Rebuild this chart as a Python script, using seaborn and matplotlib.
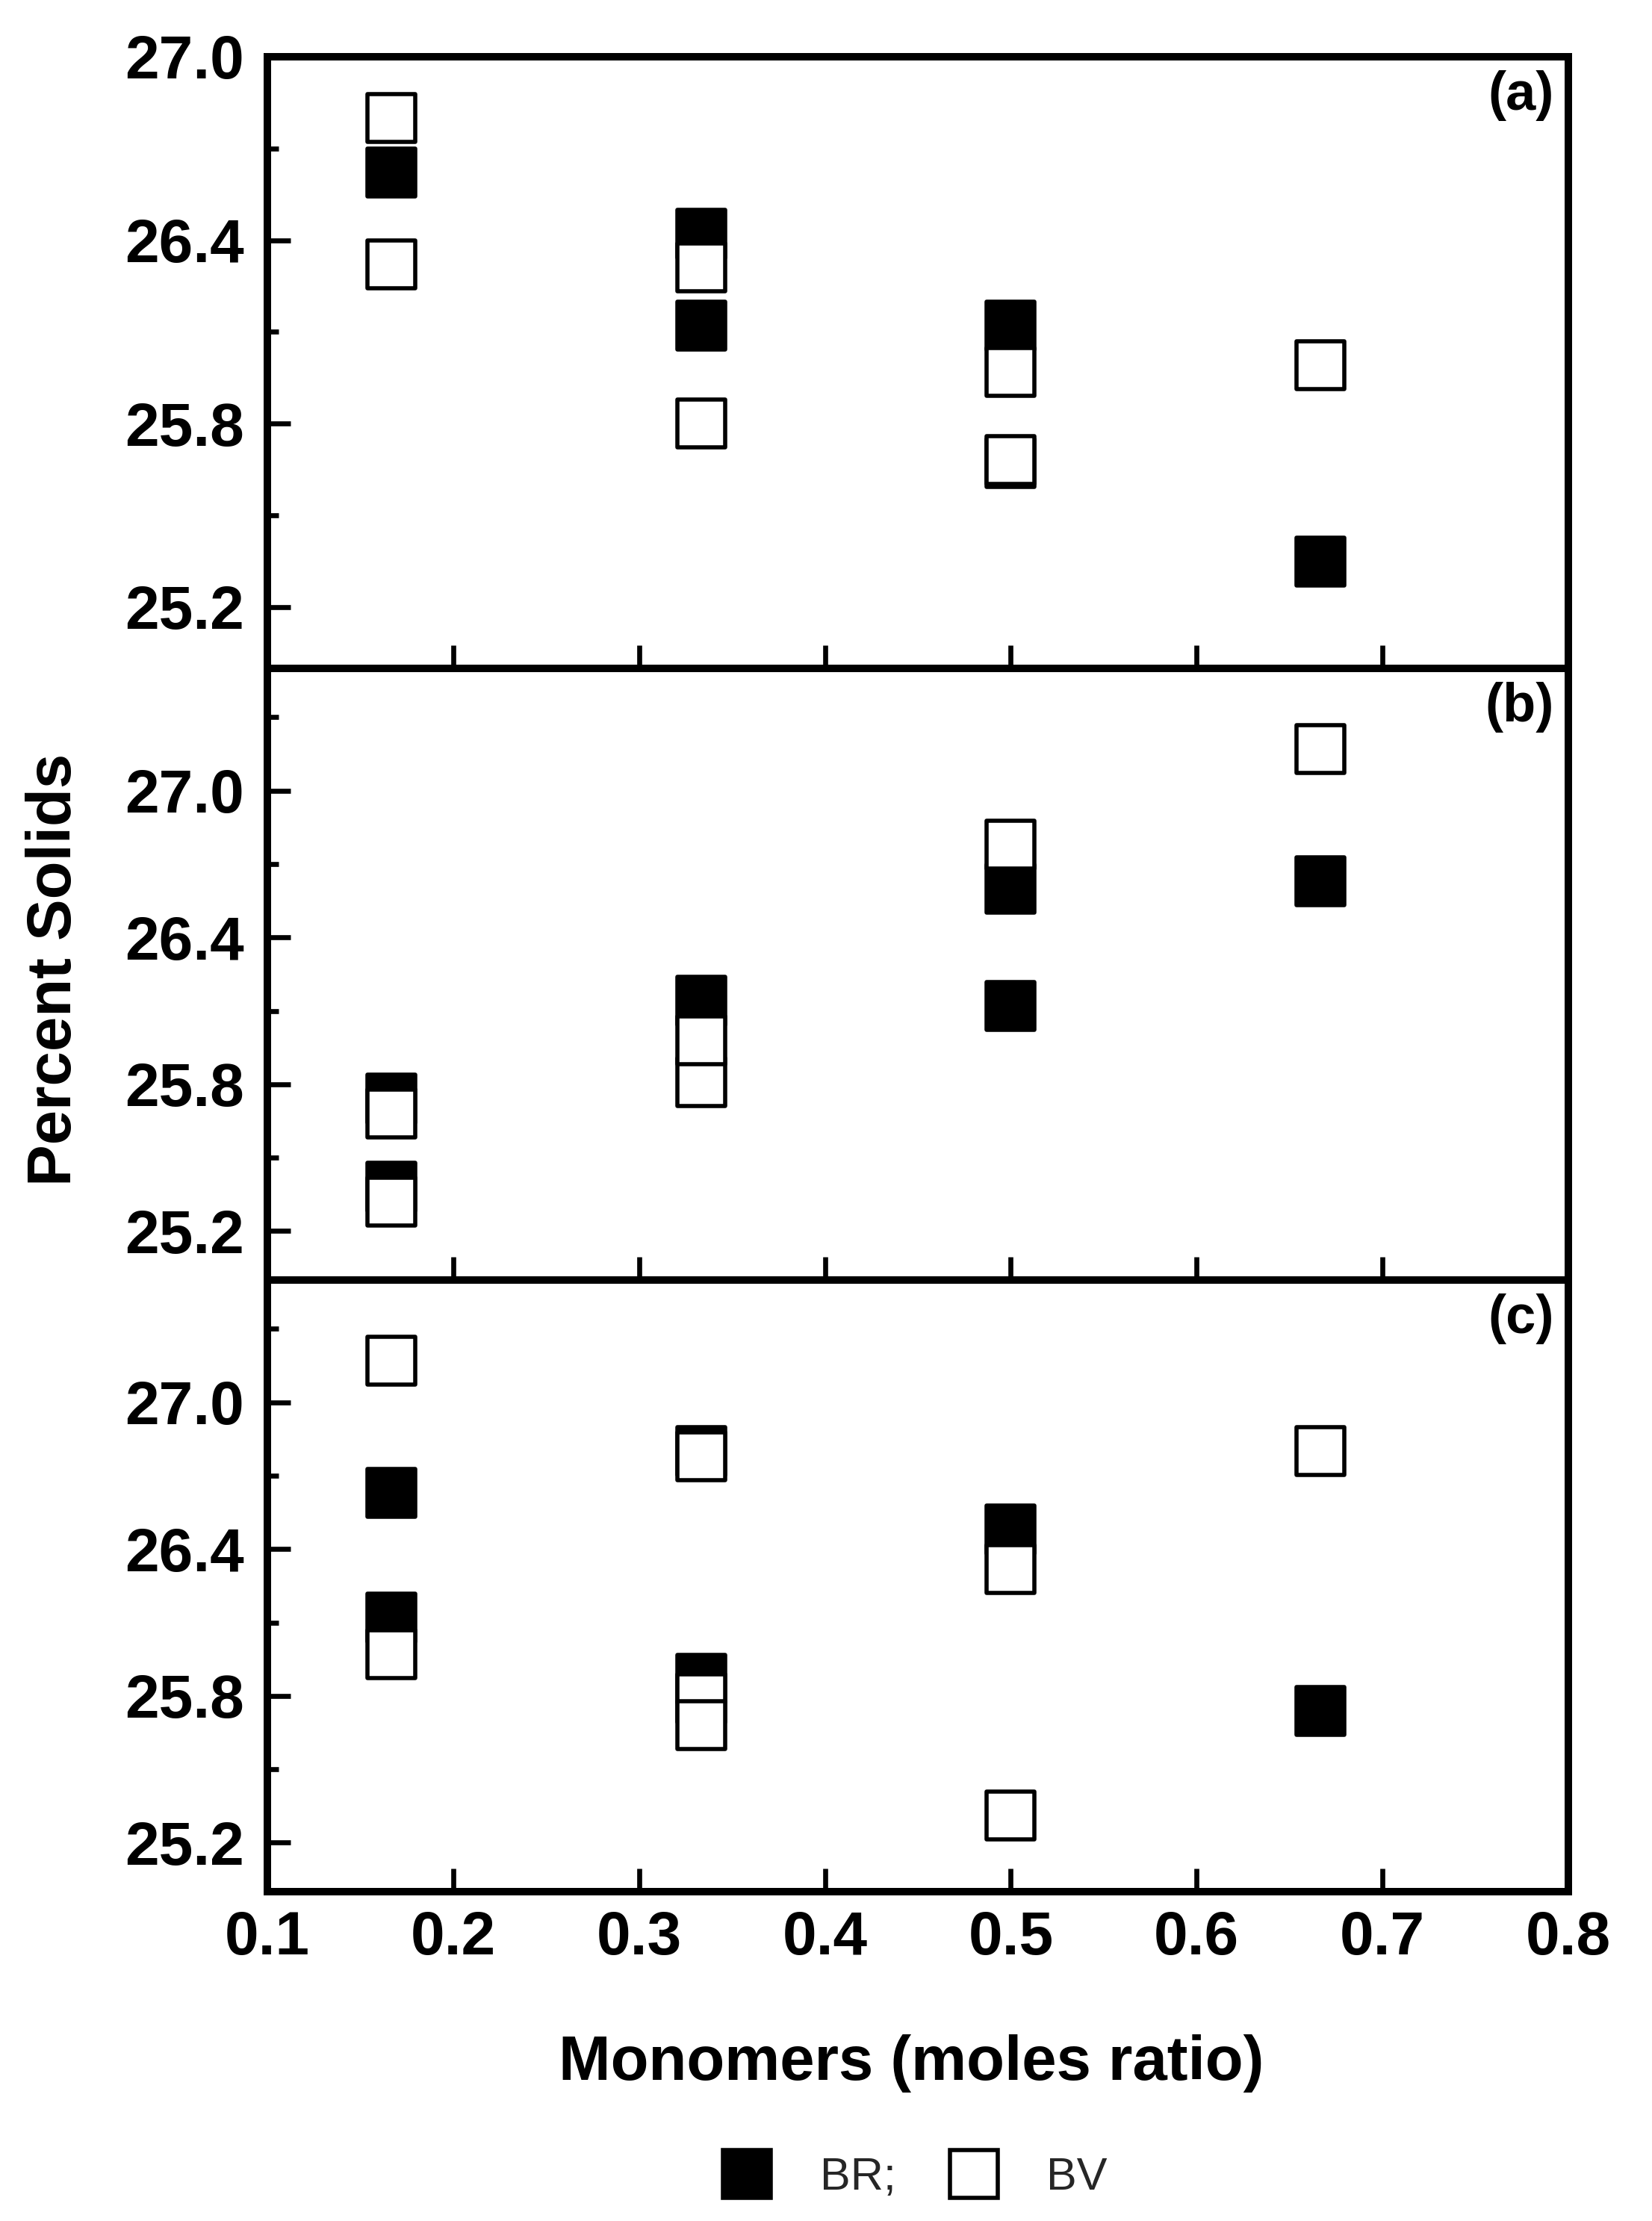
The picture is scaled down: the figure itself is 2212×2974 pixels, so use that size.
import matplotlib
matplotlib.use("Agg")
import matplotlib.pyplot as plt
import seaborn as sns
from matplotlib.lines import Line2D
from matplotlib.ticker import MultipleLocator, FixedLocator, FormatStrFormatter

# ---------------- data ----------------
series_names = ["BR;", "BV"]
panel_labels = ["(a)", "(b)", "(c)"]
x_ticks = [0.1, 0.2, 0.3, 0.4, 0.5, 0.6, 0.7, 0.8]
y_major_ticks = [25.2, 25.8, 26.4, 27.0]
y_minor_ticks = [25.5, 26.1, 26.7, 27.3]
y_limits = [(25.0, 27.0), (25.0, 27.5), (25.0, 27.5)]

# panel (a)
br_x_a = [1/6, 1/3, 1/3, 1/2, 1/2, 2/3]
br_y_a = [26.62, 26.42, 26.12, 26.12, 25.67, 25.35]
bv_x_a = [1/6, 1/6, 1/3, 1/3, 1/2, 1/2, 2/3]
bv_y_a = [26.80, 26.32, 26.31, 25.80, 25.97, 25.68, 25.99]

# panel (b)
br_x_b = [1/6, 1/6, 1/3, 1/2, 1/2, 2/3]
br_y_b = [25.74, 25.38, 26.14, 26.60, 26.12, 26.63]
bv_x_b = [1/6, 1/6, 1/3, 1/3, 1/2, 2/3]
bv_y_b = [25.68, 25.32, 25.81, 25.98, 26.78, 27.17]

# panel (c)
br_x_c = [1/6, 1/6, 1/3, 1/3, 1/2, 2/3]
br_y_c = [26.63, 26.12, 26.80, 25.87, 26.48, 25.74]
bv_x_c = [1/6, 1/6, 1/3, 1/3, 1/3, 1/2, 1/2, 2/3]
bv_y_c = [27.17, 25.97, 26.78, 25.79, 25.68, 26.32, 25.31, 26.80]

br_x = [br_x_a, br_x_b, br_x_c]
br_y = [br_y_a, br_y_b, br_y_c]
bv_x = [bv_x_a, bv_x_b, bv_x_c]
bv_y = [bv_y_a, bv_y_b, bv_y_c]

# ---------------- style ----------------
sns.set_theme(style="ticks")
plt.rcParams["font.family"] = ["Liberation Sans", "DejaVu Sans"]
plt.rcParams["font.weight"] = "bold"
plt.rcParams["axes.edgecolor"] = "black"
plt.rcParams["xtick.color"] = "black"
plt.rcParams["ytick.color"] = "black"

fig = plt.figure(figsize=(11.06, 14.87), dpi=200)
fig.patch.set_facecolor("white")

left, width, h = 0.1618, 0.7876, 0.2754
bottoms = [0.1483 + 2 * h, 0.1483 + h, 0.1483]

MS = 23.0
MS_AREA = MS ** 2
EW = 2.0

for i in range(3):
    ax = fig.add_axes([left, bottoms[i], width, h])
    ax.set_facecolor("white")
    sns.scatterplot(x=br_x[i], y=br_y[i], marker="s", s=MS_AREA, color="black",
                    edgecolor="black", linewidth=EW, ax=ax, zorder=3, legend=False)
    sns.scatterplot(x=bv_x[i], y=bv_y[i], marker="s", s=MS_AREA, color="white",
                    edgecolor="black", linewidth=EW, ax=ax, zorder=4, legend=False)
    ax.set_xlim(0.1, 0.8)
    ax.set_ylim(*y_limits[i])
    ax.xaxis.set_major_locator(FixedLocator(x_ticks))
    ax.xaxis.set_major_formatter(FormatStrFormatter("%.1f"))
    ax.yaxis.set_major_locator(FixedLocator(y_major_ticks))
    ax.yaxis.set_minor_locator(FixedLocator([v for v in y_minor_ticks if v < y_limits[i][1]]))
    ax.yaxis.set_major_formatter(FormatStrFormatter("%.1f"))
    for sp in ax.spines.values():
        sp.set_linewidth(3.6)
        sp.set_color("black")
        sp.set_visible(True)
    ax.tick_params(axis="both", which="both", direction="in", top=False, right=False,
                   width=2.4, labelsize=29.5, colors="black")
    ax.tick_params(axis="both", which="major", length=11)
    ax.tick_params(axis="y", which="minor", length=5.5)
    ax.tick_params(axis="y", which="major", pad=11)
    ax.tick_params(axis="x", which="major", pad=9, labelbottom=(i == 2))
    ax.set_xlabel("")
    ax.set_ylabel("")
    ax.grid(False)
    ax.text(0.989, 0.978, panel_labels[i], transform=ax.transAxes, ha="right", va="top",
            fontsize=26, fontweight="bold", color="black")

fig.text(0.033, 0.5635, "Percent Solids", rotation=90, ha="center", va="center",
         fontsize=30, fontweight="bold", color="black")
fig.text(0.5515, 0.071, "Monomers (moles ratio)", ha="center", va="center",
         fontsize=30, fontweight="bold", color="black")

handles = [
    Line2D([], [], marker="s", linestyle="none", markersize=MS, markerfacecolor="black",
           markeredgecolor="black", markeredgewidth=EW),
    Line2D([], [], marker="s", linestyle="none", markersize=MS, markerfacecolor="white",
           markeredgecolor="black", markeredgewidth=EW),
]
fig.legend(handles, series_names, loc="center", bbox_to_anchor=(0.553, 0.0192), ncol=2,
           frameon=False, prop={"size": 22, "weight": "normal"}, handlelength=1.2,
           handletextpad=1.0, columnspacing=1.1, borderpad=0)

fig.savefig("out.png", dpi=200, facecolor="white")
